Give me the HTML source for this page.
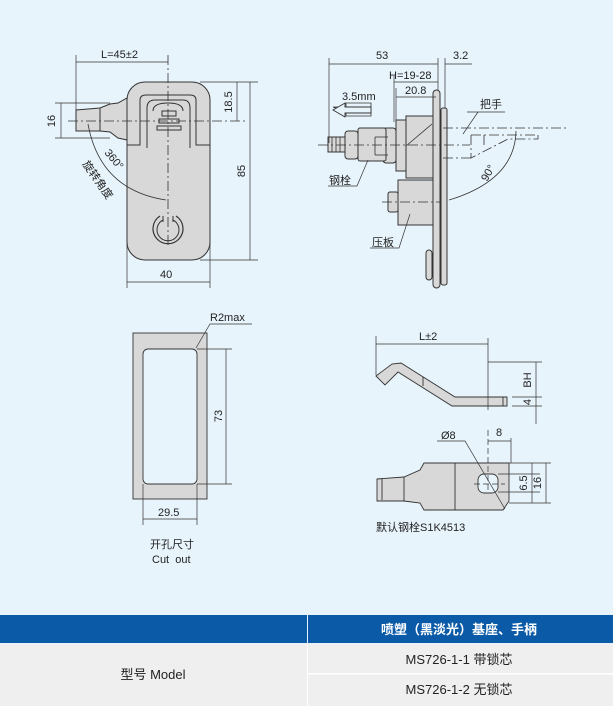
<!DOCTYPE html>
<html><head><meta charset="utf-8"><style>
html,body{margin:0;padding:0;background:#e8f4fc;}
svg{display:block}
text{font-family:"Liberation Sans","Noto Sans CJK SC",sans-serif;fill:#222;}
</style></head><body>
<svg width="613" height="706" viewBox="0 0 613 706" xmlns="http://www.w3.org/2000/svg">
<rect width="613" height="706" fill="#e8f4fc"/>
<g stroke="#333" stroke-width="1" fill="none">
<!-- ===== Front view ===== -->
<path d="M76,110 L100,108 L110,104 L118,103 L127,98 L127,140 L118,138 L110,132 L100,131 L76,131 Z" fill="#d8d8d8"/>
<line x1="100" y1="108" x2="100" y2="131"/>
<rect x="127" y="82" width="83" height="178" rx="18" fill="#d8d8d8"/>
<path d="M127,145 L140,145 L140,100 Q140,95 146,95 L190,95 Q196,95 196,100 L196,145 L210,145" />
<path d="M147,148 L147,108 Q147,100 155,100 L183,100 Q190,100 190,108 L190,148"/>
<path d="M153,111 Q153,103 168,103 Q183,103 183,111"/>
<rect x="162" y="111" width="14" height="5" fill="#d8d8d8"/>
<rect x="159" y="119" width="20" height="4" fill="#d8d8d8"/>
<rect x="157" y="126" width="24" height="4" fill="#d8d8d8"/>
<path d="M160,216 A15,15 0 1,0 176,216" stroke-width="1.2"/>
<path d="M163,220 A11,11 0 1,0 173,220"/>
<line x1="163" y1="216" x2="163" y2="222"/><line x1="173" y1="216" x2="173" y2="222"/>
<!-- centerlines -->
<g stroke-dasharray="10,3,2,3" stroke-width="0.8">
<line x1="68" y1="121" x2="245" y2="121"/>
<line x1="168" y1="55" x2="168" y2="247"/>
</g>
<!-- dims -->
<line x1="76" y1="55" x2="76" y2="131" stroke-width="0.7"/>
<line x1="76" y1="62" x2="168" y2="62" stroke-width="0.7"/>
<line x1="55" y1="103" x2="110" y2="103" stroke-width="0.7"/>
<line x1="55" y1="138" x2="110" y2="138" stroke-width="0.7"/>
<line x1="61" y1="103" x2="61" y2="138" stroke-width="0.7"/>
<line x1="200" y1="82" x2="258" y2="82" stroke-width="0.7"/>
<line x1="200" y1="260" x2="258" y2="260" stroke-width="0.7"/>
<line x1="237" y1="82" x2="237" y2="121" stroke-width="0.7"/>
<line x1="250" y1="82" x2="250" y2="260" stroke-width="0.7"/>
<line x1="127" y1="240" x2="127" y2="288" stroke-width="0.7"/>
<line x1="210" y1="240" x2="210" y2="288" stroke-width="0.7"/>
<line x1="127" y1="282" x2="210" y2="282" stroke-width="0.7"/>
<path d="M88,124 Q100,190 166,200" stroke-width="0.8"/>
</g>
<text x="101" y="58" font-size="11">L=45±2</text>
<text transform="translate(55,121) rotate(-90)" font-size="11" text-anchor="middle">16</text>
<text transform="translate(232,102) rotate(-90)" font-size="11" text-anchor="middle">18.5</text>
<text transform="translate(245,171) rotate(-90)" font-size="11" text-anchor="middle">85</text>
<text x="160" y="278" font-size="11">40</text>
<text transform="translate(104,153) rotate(50)" font-size="11">360°</text>
<text transform="translate(82,164) rotate(55)" font-size="11">旋转角度</text>

<!-- ===== Side view ===== -->
<g stroke="#333" stroke-width="1" fill="#d8d8d8">
<rect x="433" y="90" width="7" height="198" rx="3.5"/>
<rect x="441" y="108" width="6" height="177" rx="2"/>
<rect x="426" y="250" width="6" height="30" rx="3"/>
<rect x="396" y="120" width="10" height="51"/>
<rect x="406" y="116" width="27" height="62"/>
<rect x="398" y="180" width="35" height="45"/>
<rect x="388" y="192" width="10" height="20" rx="2"/>
<rect x="383" y="128" width="13" height="35" rx="3"/>
<rect x="358" y="128" width="28" height="33" rx="2"/>
<rect x="345" y="131" width="13" height="28" rx="3"/>
<rect x="328" y="137" width="17" height="15"/>
</g>
<g stroke="#333" stroke-width="0.8" fill="none">
<line x1="406" y1="146" x2="432" y2="124"/>
<line x1="375" y1="137" x2="388" y2="137"/>
<line x1="375" y1="155" x2="388" y2="155"/>
<line x1="375" y1="137" x2="375" y2="155"/>
<line x1="332" y1="137" x2="332" y2="152"/><line x1="336" y1="137" x2="336" y2="152"/><line x1="340" y1="137" x2="340" y2="152"/>
<g stroke-dasharray="10,3,2,3">
<line x1="318" y1="145" x2="470" y2="145"/>
<line x1="382" y1="202" x2="440" y2="202"/>
<line x1="443" y1="128" x2="567" y2="128"/>
<line x1="443" y1="158" x2="471" y2="158"/>
<line x1="471" y1="135" x2="537" y2="135"/>
<path d="M471,135 L471,158 L508,139 L538,139 L538,135"/>
<line x1="484" y1="135" x2="484" y2="145"/>
</g>
<path d="M516,131 Q515,180 449,200"/>
<path d="M333,107 L346,107 L346,103 L371,103 L371,116 L346,116 L346,112 Z" transform="translate(0,0)"/>
<!-- dims -->
<line x1="329" y1="58" x2="329" y2="143" stroke-width="0.7"/>
<line x1="438" y1="58" x2="438" y2="90" stroke-width="0.7"/>
<line x1="445" y1="58" x2="445" y2="108" stroke-width="0.7"/>
<line x1="329" y1="64" x2="438" y2="64" stroke-width="0.7"/>
<line x1="445" y1="64" x2="472" y2="64" stroke-width="0.7"/>
<line x1="394" y1="76" x2="394" y2="122" stroke-width="0.7"/>
<line x1="394" y1="82" x2="438" y2="82" stroke-width="0.7"/>
<line x1="396" y1="88" x2="396" y2="122" stroke-width="0.7"/>
<line x1="396" y1="97" x2="436" y2="97" stroke-width="0.7"/>
<!-- leaders -->
<path d="M467,112 L505,112 M478,112 L463,134" stroke-width="0.7"/>
<path d="M328,186 L357,186 L368,160" stroke-width="0.7"/>
<path d="M370,248 L399,248 L410,214" stroke-width="0.7"/>
</g>
<path d="M333,110 L345,103 L345,107 L371,107 L371,113 L345,113 L345,117 Z" fill="#e8f4fc" stroke="#333" stroke-width="0.9"/>
<text x="376" y="59" font-size="11">53</text>
<text x="453" y="59" font-size="11">3.2</text>
<text x="389" y="79" font-size="11">H=19-28</text>
<text x="405" y="94" font-size="11">20.8</text>
<text x="342" y="100" font-size="11">3.5mm</text>
<text x="480" y="108" font-size="11">把手</text>
<text x="329" y="184" font-size="11">钢栓</text>
<text x="372" y="246" font-size="11">压板</text>
<text transform="translate(487,182) rotate(-60)" font-size="11">90°</text>

<!-- ===== Cut out ===== -->
<g stroke="#333" stroke-width="0.9">
<rect x="133" y="333" width="74" height="166" fill="#d8d8d8"/>
<rect x="143" y="349" width="54" height="135" rx="5" fill="#e8f4fc"/>
<line x1="197" y1="349" x2="232" y2="349" stroke-width="0.7"/>
<line x1="197" y1="484" x2="232" y2="484" stroke-width="0.7"/>
<line x1="226" y1="349" x2="226" y2="484" stroke-width="0.7"/>
<line x1="143" y1="484" x2="143" y2="525" stroke-width="0.7"/>
<line x1="197" y1="484" x2="197" y2="525" stroke-width="0.7"/>
<line x1="143" y1="519" x2="197" y2="519" stroke-width="0.7"/>
<path d="M196,348 L210,324 L252,324" fill="none" stroke-width="0.7"/>
</g>
<text x="210" y="321" font-size="11">R2max</text>
<text transform="translate(222,416) rotate(-90)" font-size="11" text-anchor="middle">73</text>
<text x="158" y="516" font-size="11">29.5</text>
<text x="150" y="548" font-size="11">开孔尺寸</text>
<text x="152" y="563" font-size="11">Cut&#160;&#160;out</text>

<!-- ===== Bolt views ===== -->
<g stroke="#333" stroke-width="0.9">
<path d="M376,376 L392,364 L401,363 L455,397 L507,397 L507,406 L452,406 L398,372 L385,385 Z" fill="#d8d8d8"/>
<line x1="423" y1="377" x2="423" y2="386"/>
<line x1="503" y1="397" x2="503" y2="406"/>
<line x1="376" y1="336" x2="376" y2="375" stroke-width="0.7"/>
<line x1="488" y1="338" x2="488" y2="410" stroke-width="0.7"/>
<line x1="376" y1="344" x2="488" y2="344" stroke-width="0.7"/>
<line x1="488" y1="362" x2="542" y2="362" stroke-width="0.7"/>
<line x1="512" y1="397" x2="542" y2="397" stroke-width="0.7"/>
<line x1="512" y1="406" x2="542" y2="406" stroke-width="0.7"/>
<line x1="536" y1="362" x2="536" y2="424" stroke-width="0.7"/>
<path d="M377,472 L404,470 L420,463 L424,456 L509,456 L509,494 L503,503 L424,503 L420,496 L404,494 L377,494 Z" transform="translate(0,7)" fill="#d8d8d8"/>
<line x1="382" y1="478" x2="382" y2="500"/>
<line x1="404" y1="477" x2="404" y2="501"/>
<line x1="455" y1="463" x2="455" y2="510"/>
<rect x="478" y="474" width="20" height="19" rx="6" fill="#e8f4fc"/>
<line x1="488" y1="430" x2="488" y2="492" stroke-width="0.7" stroke-dasharray="6,3"/>
<line x1="474" y1="484" x2="505" y2="484" stroke-width="0.7" stroke-dasharray="6,3"/>
<line x1="511" y1="438" x2="511" y2="463" stroke-width="0.7"/>
<line x1="488" y1="441" x2="511" y2="441" stroke-width="0.7"/>
<line x1="498" y1="474" x2="540" y2="474" stroke-width="0.7"/>
<line x1="498" y1="492" x2="540" y2="492" stroke-width="0.7"/>
<line x1="509" y1="463" x2="551" y2="463" stroke-width="0.7"/>
<line x1="509" y1="503" x2="551" y2="503" stroke-width="0.7"/>
<line x1="532" y1="463" x2="532" y2="503" stroke-width="0.7"/>
<line x1="546" y1="463" x2="546" y2="503" stroke-width="0.7"/>
<path d="M437,441 L465,441 L505,509" fill="none" stroke-width="0.7"/>
</g>
<text x="419" y="340" font-size="11">L±2</text>
<text transform="translate(531,380) rotate(-90)" font-size="11" text-anchor="middle">BH</text>
<text transform="translate(531,402) rotate(-90)" font-size="11" text-anchor="middle">4</text>
<text x="441" y="439" font-size="11">Ø8</text>
<text x="496" y="436" font-size="11">8</text>
<text transform="translate(527,483) rotate(-90)" font-size="11" text-anchor="middle">6.5</text>
<text transform="translate(541,483) rotate(-90)" font-size="11" text-anchor="middle">16</text>
<text x="376" y="531" font-size="11">默认钢栓S1K4513</text>

<!-- ===== Table ===== -->
<rect x="0" y="615" width="613" height="28" fill="#0b5aa8"/>
<rect x="307" y="615" width="1" height="28" fill="#e8f4fc"/>
<rect x="0" y="644" width="613" height="62" fill="#efefef"/>
<rect x="307" y="644" width="1" height="62" fill="#ffffff"/>
<rect x="308" y="673" width="305" height="1.5" fill="#ffffff"/>
<text x="459" y="634" font-size="13" font-weight="bold" text-anchor="middle" style="fill:#fff">喷塑（黑淡光）基座、手柄</text>
<text x="153" y="679" font-size="13" text-anchor="middle">型号 Model</text>
<text x="459" y="664" font-size="13" text-anchor="middle">MS726-1-1 带锁芯</text>
<text x="459" y="694" font-size="13" text-anchor="middle">MS726-1-2 无锁芯</text>
</svg>
</body></html>
